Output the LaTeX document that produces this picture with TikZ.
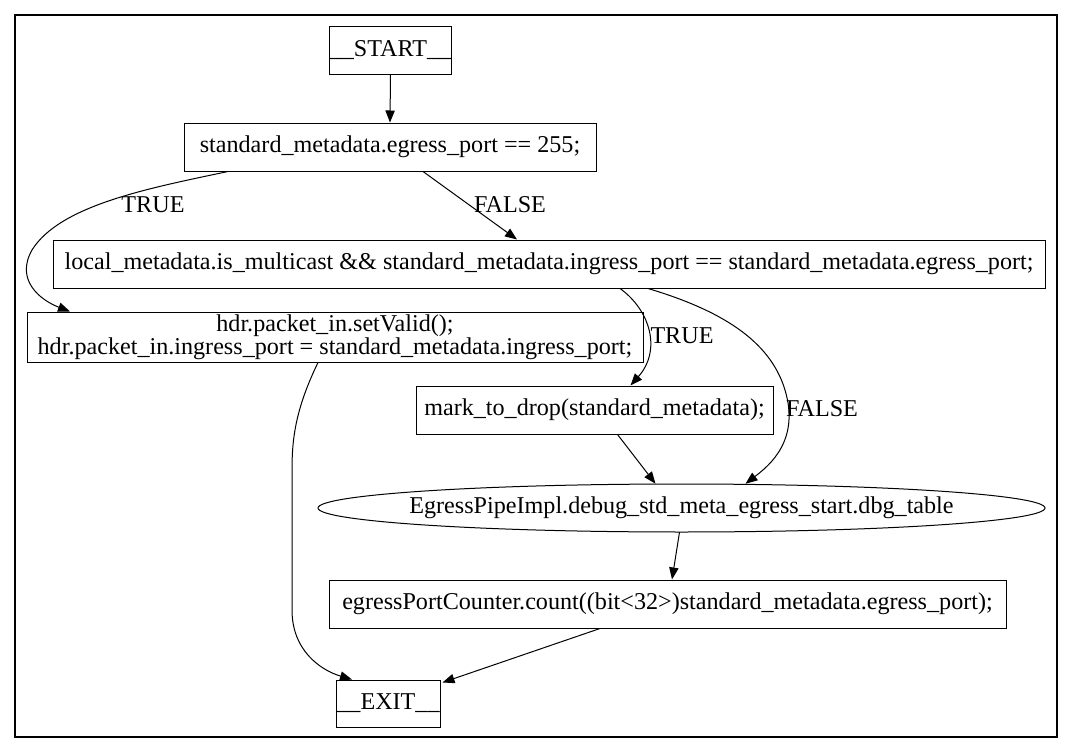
\documentclass[tikz,border=0pt]{standalone}
\usepackage{fontspec}
\setmainfont{Liberation Serif}
\usetikzlibrary{arrows.meta,calc}
\begin{document}
\begin{tikzpicture}[x=0.75pt,y=-0.75pt,
  every node/.style={font=\fontsize{18.1}{14.5}\selectfont},
  box/.style={draw, rectangle, inner sep=0pt, line width=0.75pt, align=center},
  plain/.style={rectangle, inner sep=0pt},
  edge/.style={line width=0.75pt, -{Triangle[length=9pt,width=7pt]}},
  lbl/.style={inner sep=0pt}]
\useasboundingbox (0,0) rectangle (1072,753);
\draw[line width=1.6pt] (15,15) rectangle (1057,737);

\node[box, minimum width=121*0.75pt, minimum height=48*0.75pt] (start) at (390.5,50) {\_\_START\_\_};
\node[box, minimum width=412*0.75pt, minimum height=48*0.75pt] (egress) at (390,147) {standard\_metadata.egress\_port == 255;};
\node[box, minimum width=992*0.75pt, minimum height=48*0.75pt] (local) at (549,264) {local\_metadata.is\_multicast \&\& standard\_metadata.ingress\_port == standard\_metadata.egress\_port;};
\node[box, minimum width=616*0.75pt, minimum height=50*0.75pt] (hdr) at (335,337) {hdr.packet\_in.setValid();\\hdr.packet\_in.ingress\_port = standard\_metadata.ingress\_port;};
\node[box, minimum width=357*0.75pt, minimum height=48*0.75pt] (mark) at (594.5,410) {mark\_to\_drop(standard\_metadata);};
\node[plain, minimum height=48*0.75pt] (tbl) at (681.5,508) {EgressPipeImpl.debug\_std\_meta\_egress\_start.dbg\_table};
\draw[line width=0.75pt] (tbl.center) ellipse [x radius=363.5, y radius=24];
\node[box, minimum width=677*0.75pt, minimum height=48*0.75pt] (counter) at (667.5,604) {egressPortCounter.count((bit<32>)standard\_metadata.egress\_port);};
\node[box, minimum width=104*0.75pt, minimum height=47*0.75pt] (exit) at (388,703.5) {\_\_EXIT\_\_};

\draw[edge] (start.south) -- (egress.north);
\draw[edge] ($(egress.south)+(-162,0)$) .. controls (150,188) and (60,205) .. (32,250)
  .. controls (15,280) and (40,300) .. ($(hdr.north)+(-265,0)$);
\draw[edge] ($(egress.south)+(33,0)$) -- ($(local.north)+(-32,0)$);
\draw[edge] ($(local.south)+(71,0)$) .. controls (650,310) and (662,350) .. ($(mark.north)+(36,0)$);
\draw[edge] ($(local.south)+(99,0)$) .. controls (720,310) and (770,340) .. (785,390)
  .. controls (800,440) and (770,465) .. ($(tbl.north)+(64,0)$);
\draw[edge] ($(hdr.south)+(-17,0)$) .. controls (295,410) and (292,440) .. (292,470)
  -- (292,610) .. controls (292,650) and (320,670) .. ($(exit.north)+(-36,0)$);
\draw[edge] ($(mark.south)+(23,0)$) -- ($(tbl.north)+(-26,0)$);
\draw[edge] ($(tbl.south)+(-2,0)$) -- ($(counter.north)+(4.5,0)$);
\draw[edge] ($(counter.south)+(-67.5,0)$) -- ($(exit.north east)+(2,3)$);

\node[lbl] (t1) at (153,205) {TRUE};
\node[lbl] (f1) at (510,205) {FALSE};
\node[lbl] (t2) at (682,336) {TRUE};
\node[lbl] (f2) at (822,409) {FALSE};
\end{tikzpicture}
\end{document}
